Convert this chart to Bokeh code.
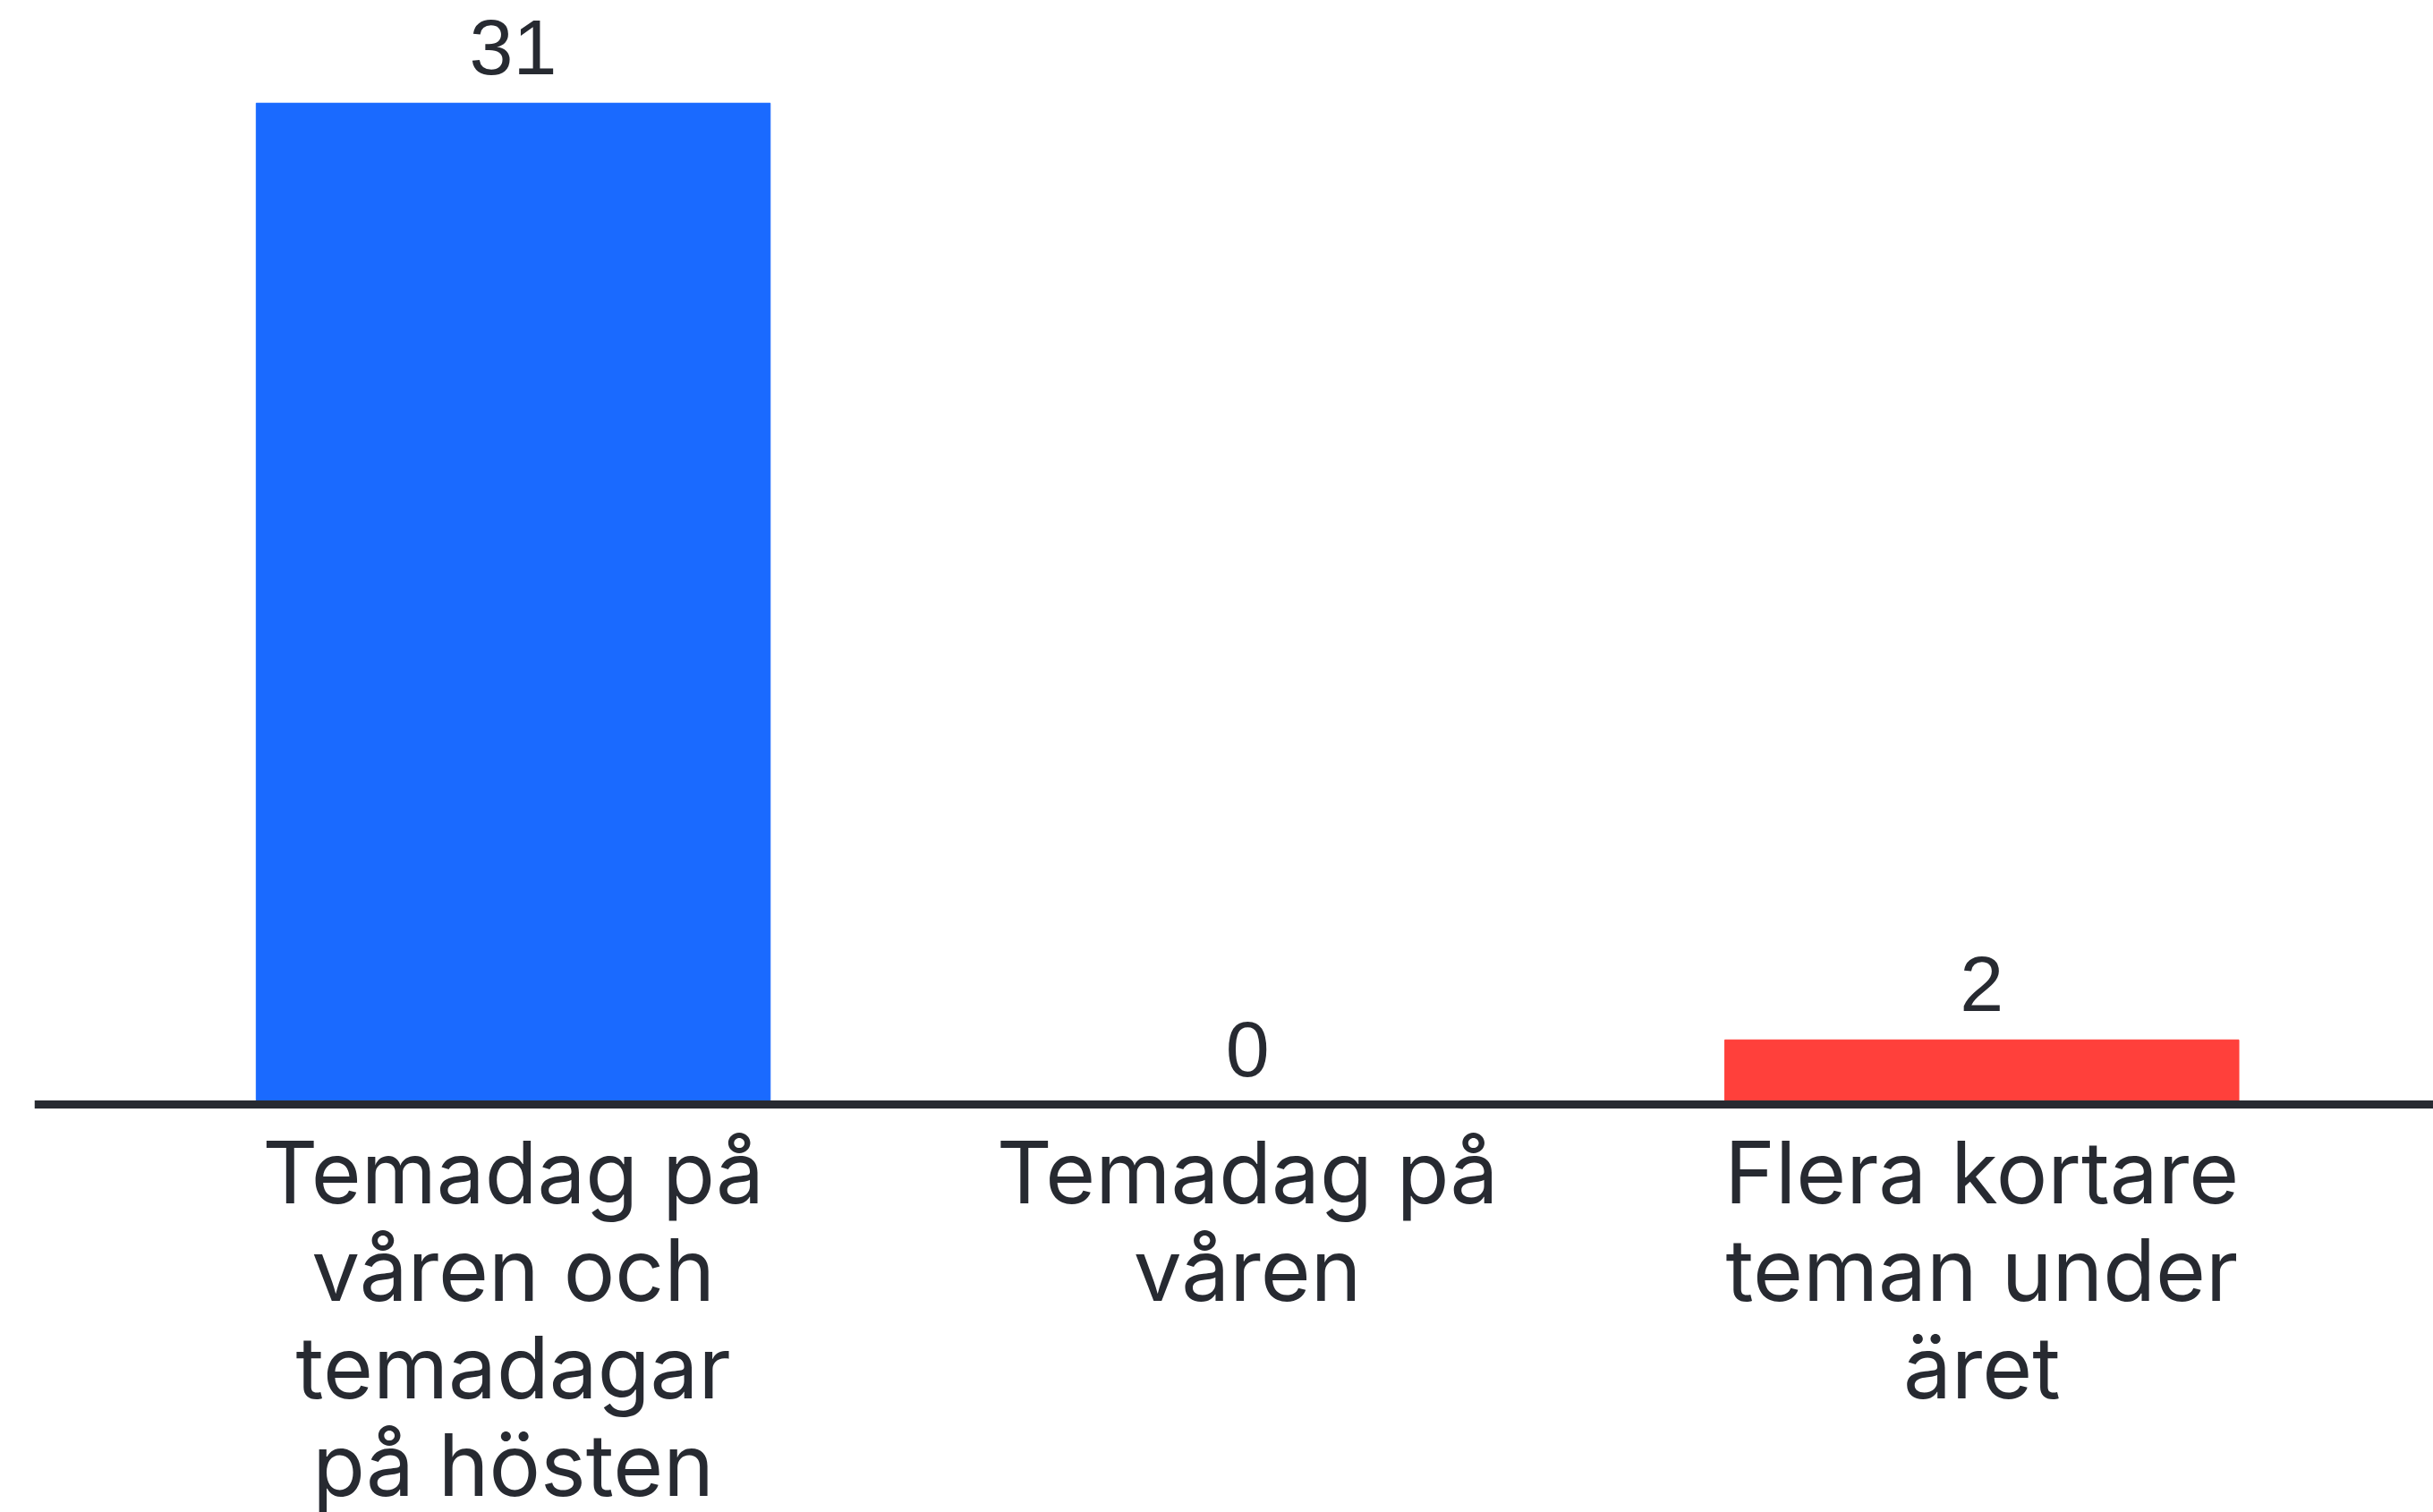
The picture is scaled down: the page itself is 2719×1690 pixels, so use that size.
from bokeh.plotting import figure
from bokeh.models import ColumnDataSource, Range1d, Span
from bokeh.core.properties import value
from bokeh.embed import file_html
from bokeh.resources import INLINE

categories = ["Temadag på\nvåren och\ntemadagar\npå hösten", "Temadag på\nvåren", "Flera kortare\nteman under\näret"]
values = [31, 0, 2]
colors = ["#1A6AFF", "#FFB800", "#FF403B"]

xs = list(range(len(categories)))
src = ColumnDataSource(dict(x=xs, top=values, color=colors, label=[str(v) for v in values],
                            cat=categories, base=[0] * len(xs)))

p = figure(width=2719, height=1690, output_backend="svg", toolbar_location=None,
           x_range=Range1d(-0.652, 2.615), y_range=Range1d(-12.63, 34.18),
           min_border_left=38, min_border_right=0, min_border_top=0, min_border_bottom=0)

p.vbar(x="x", top="top", width=0.7, color="color", source=src)
p.text(x="x", y="top", text="label", source=src, text_align="center", text_baseline="bottom",
       y_offset=-32, text_font=value("Liberation Sans"), text_font_size="88px",
       text_color="#272a31")
p.text(x="x", y="base", text="cat", source=src, text_align="center", text_baseline="top",
       y_offset=17, text_font=value("Inter"), text_font_size="96px", text_color="#272a31",
       text_line_height=0.94)

p.add_layout(Span(location=0, dimension="width", line_color="#272a31", line_width=9))

p.axis.visible = False
p.grid.visible = False
p.outline_line_color = None
p.background_fill_color = "white"
p.border_fill_color = "white"

open("out.html", "w").write(file_html(p, INLINE))
